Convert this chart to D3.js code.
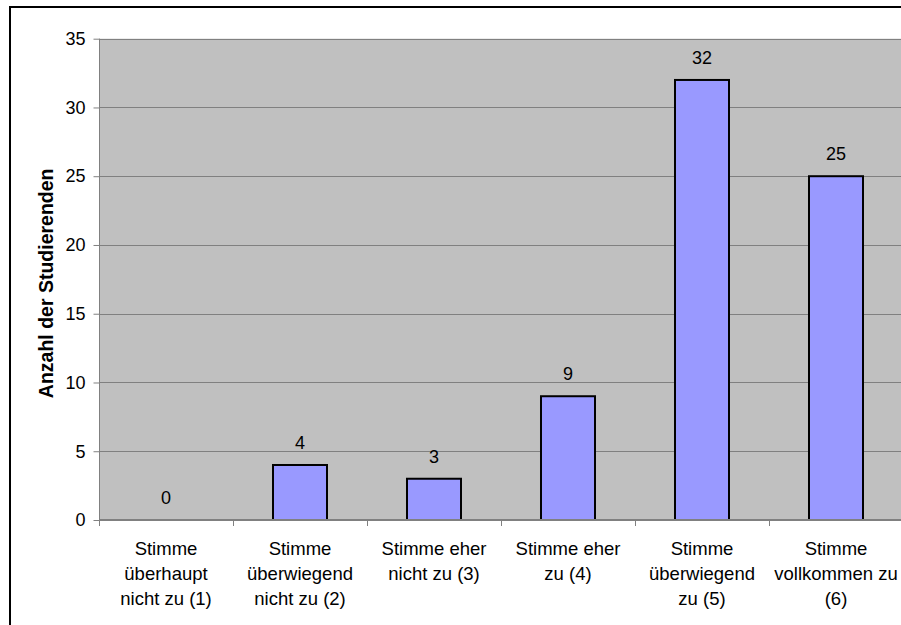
<!DOCTYPE html>
<html>
<head>
<meta charset="utf-8">
<script src="https://cdn.jsdelivr.net/npm/d3@7"></script>
<style>
  html, body { margin: 0; padding: 0; background: #fff; }
  svg { display: block; font-family: "Liberation Sans", Arial, sans-serif; }
</style>
</head>
<body>
<svg id="chart" width="901" height="625"></svg>
<script>
// Antworten auf einer sechsstufigen Zustimmungsskala
const categories = [
  ["Stimme", "überhaupt", "nicht zu (1)"],
  ["Stimme", "überwiegend", "nicht zu (2)"],
  ["Stimme eher", "nicht zu (3)"],
  ["Stimme eher", "zu (4)"],
  ["Stimme", "überwiegend", "zu (5)"],
  ["Stimme", "vollkommen zu", "(6)"]
];
const counts = [0, 4, 3, 9, 32, 25];
const yTicks = [0, 5, 10, 15, 20, 25, 30, 35];
const yTitle = "Anzahl der Studierenden";

const svg = d3.select("#chart");
const plot = { left: 99, right: 903, top: 38.7, bottom: 520 };

// outer frame of the chart
svg.append("rect")
  .attr("x", 10).attr("y", 7)
  .attr("width", 960).attr("height", 700)
  .attr("fill", "#fff")
  .attr("stroke", "#000").attr("stroke-width", 2);

const keys = categories.map((c, i) => i);
const x = d3.scaleBand()
  .domain(keys)
  .range([plot.left, plot.right])
  .paddingInner(0.597)
  .paddingOuter(0.2985);

const y = d3.scaleLinear()
  .domain([0, 35])
  .range([plot.bottom, plot.top]);

// plot area background
svg.append("rect")
  .attr("x", plot.left).attr("y", plot.top)
  .attr("width", plot.right - plot.left)
  .attr("height", plot.bottom - plot.top)
  .attr("fill", "#c0c0c0");

// horizontal gridlines
svg.append("g")
  .selectAll("line")
  .data(yTicks.filter(t => t > 0))
  .join("line")
  .attr("x1", plot.left).attr("x2", plot.right)
  .attr("y1", d => Math.round(y(d)) + 0.5)
  .attr("y2", d => Math.round(y(d)) + 0.5)
  .attr("stroke", "#808080").attr("stroke-width", 1);

// y axis
const yAxis = d3.axisLeft(y)
  .tickValues(yTicks)
  .tickSize(6)
  .tickPadding(8)
  .tickFormat(d3.format("d"));
const gy = svg.append("g")
  .attr("transform", `translate(${plot.left + 0.5},0)`)
  .call(yAxis);
gy.select(".domain").attr("stroke", "#808080").attr("d", `M0,${plot.top}V${plot.bottom + 6}`);
gy.selectAll(".tick line").attr("stroke", "#808080");
gy.selectAll(".tick text")
  .attr("fill", "#000")
  .attr("font-size", 18)
  .attr("font-family", "Liberation Sans, Arial, sans-serif");

// bars
svg.append("g")
  .selectAll("rect")
  .data(counts.map((v, i) => ({ v, i })).filter(d => d.v > 0))
  .join("rect")
  .attr("x", d => x(d.i))
  .attr("y", d => y(d.v))
  .attr("width", x.bandwidth())
  .attr("height", d => y(0) - y(d.v))
  .attr("fill", "#9999ff")
  .attr("stroke", "#000")
  .attr("stroke-width", 2);

// x axis line with tick marks at category boundaries
const step = x.step();
const boundaries = d3.range(keys.length + 1).map(i => plot.left + i * step);
svg.append("line")
  .attr("x1", plot.left).attr("x2", plot.right)
  .attr("y1", plot.bottom).attr("y2", plot.bottom)
  .attr("stroke", "#808080").attr("stroke-width", 2);
svg.append("g")
  .selectAll("line")
  .data(boundaries.slice(1))
  .join("line")
  .attr("x1", d => Math.round(d) + 0.5).attr("x2", d => Math.round(d) + 0.5)
  .attr("y1", plot.bottom).attr("y2", plot.bottom + 6)
  .attr("stroke", "#808080").attr("stroke-width", 1);

// category labels
const labels = svg.append("g")
  .attr("font-size", 18.5)
  .attr("text-anchor", "middle")
  .attr("fill", "#000");
categories.forEach((lines, i) => {
  const t = labels.append("text")
    .attr("x", x(i) + x.bandwidth() / 2)
    .attr("y", 555);
  lines.forEach((ln, j) => {
    t.append("tspan")
      .attr("x", x(i) + x.bandwidth() / 2)
      .attr("y", 555 + j * 25)
      .text(ln);
  });
});

// value labels above bars
svg.append("g")
  .attr("font-size", 18)
  .attr("text-anchor", "middle")
  .selectAll("text")
  .data(counts)
  .join("text")
  .attr("x", (d, i) => x(i) + x.bandwidth() / 2)
  .attr("y", d => y(d) - 16)
  .text(d => d);

// y axis title
svg.append("text")
  .attr("transform", `translate(53,${(plot.top + plot.bottom) / 2 + 4}) rotate(-90)`)
  .attr("text-anchor", "middle")
  .attr("font-size", 19.5)
  .attr("font-weight", "bold")
  .text(yTitle);
</script>
</body>
</html>
